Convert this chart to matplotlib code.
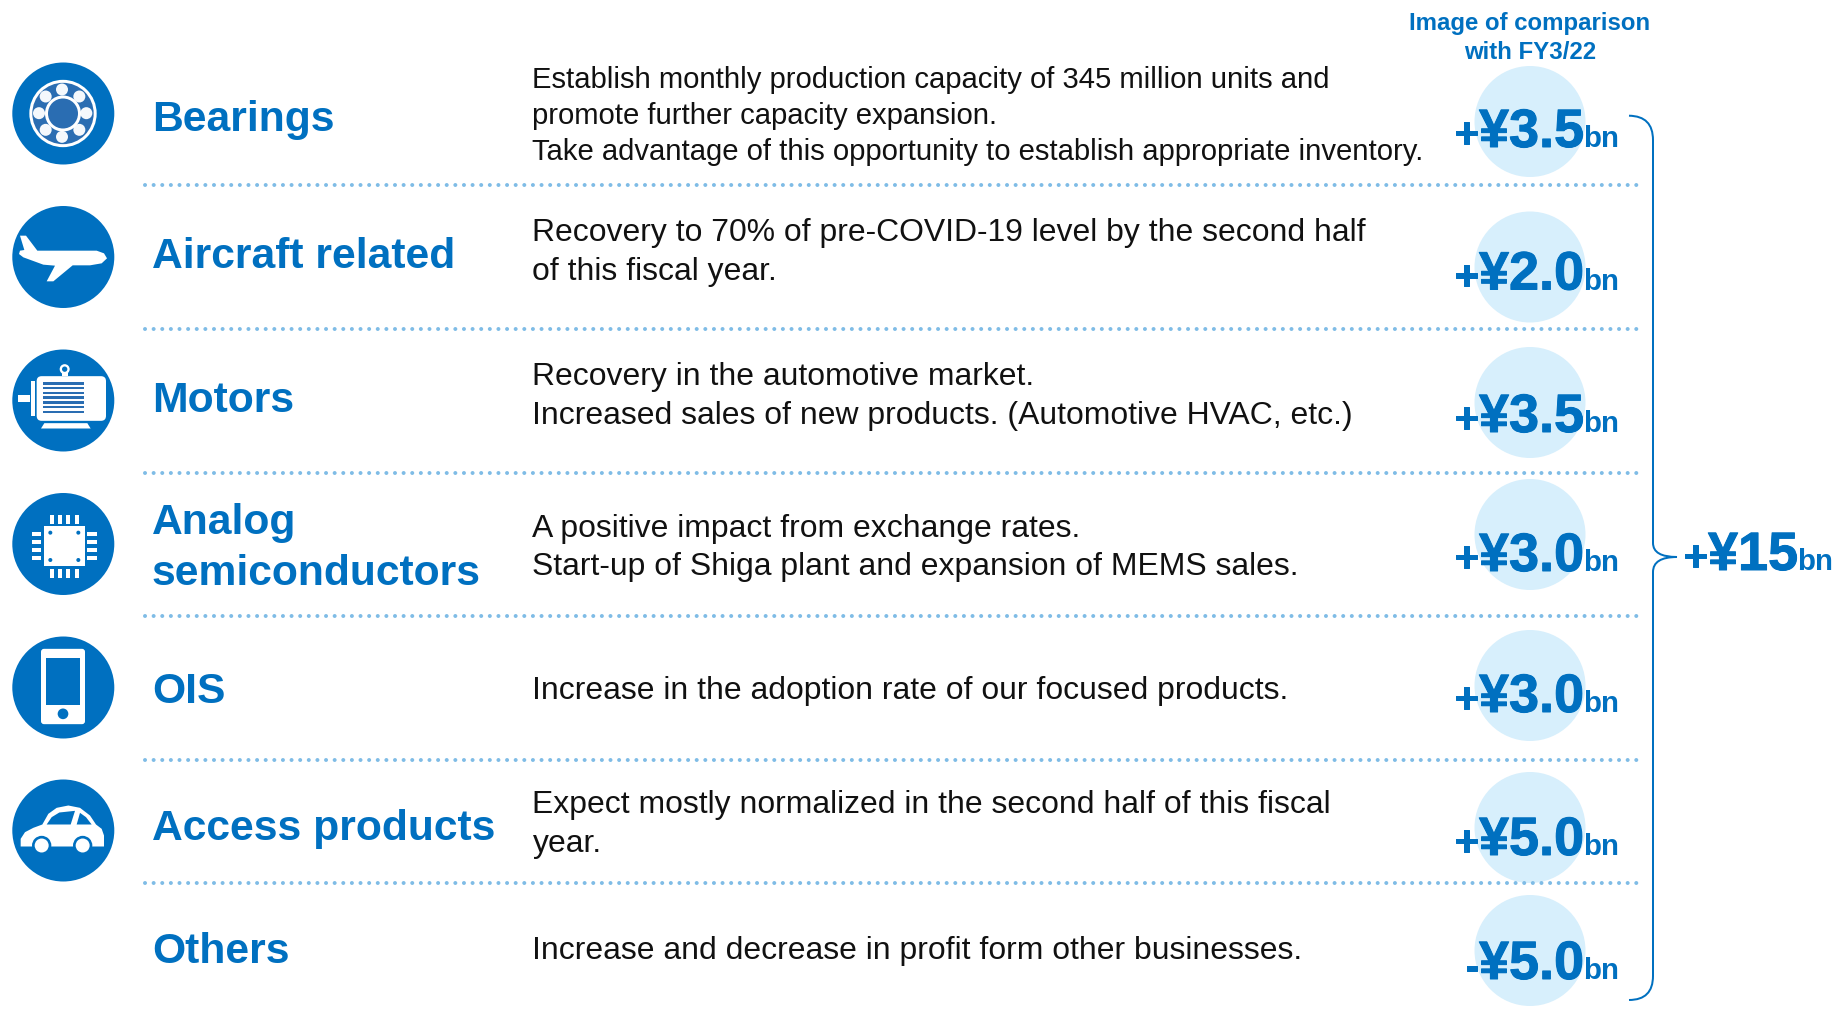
import matplotlib
matplotlib.use("Agg")
import matplotlib.pyplot as plt
import matplotlib.patheffects as pe
from matplotlib.patches import Circle, Polygon, Rectangle, FancyBboxPatch, PathPatch
from matplotlib.path import Path

categories = ["Bearings", "Aircraft related", "Motors", "Analog\nsemiconductors", "OIS", "Access products", "Others"]
descriptions = [
    ["Establish monthly production capacity of 345 million units and",
     "promote further capacity expansion.",
     "Take advantage of this opportunity to establish appropriate inventory."],
    ["Recovery to 70% of pre-COVID-19 level by the second half", "of this fiscal year."],
    ["Recovery in the automotive market.", "Increased sales of new products. (Automotive HVAC, etc.)"],
    ["A positive impact from exchange rates.", "Start-up of Shiga plant and expansion of MEMS sales."],
    ["Increase in the adoption rate of our focused products."],
    ["Expect mostly normalized in the second half of this fiscal", "year."],
    ["Increase and decrease in profit form other businesses."],
]
signs = ["+", "+", "+", "+", "+", "+", "-"]
amounts = ["¥3.5", "¥2.0", "¥3.5", "¥3.0", "¥3.0", "¥5.0", "¥5.0"]
total_sign, total_amount = "+", "¥15"
unit = "bn"
header = "Image of comparison\nwith FY3/22"

BLUE = "#0070C0"
LIGHT = "#D7EFFC"
DOT = "#7FBCE6"
INK = "#111111"
FONT = "Liberation Sans"
PX = 0.72

icon_y = [113.5, 257, 400.5, 544, 687.5, 830.5]
bubble_y = [121.5, 267, 402.5, 534.5, 685.5, 827.5, 950.5]
amount_base = [147, 289.5, 432, 571, 712, 855, 979]
sep_y = [184.7, 328.7, 472.5, 615.5, 759.5, 883]
title_y = [131, 268, 412, None, 703, 840, 963]
body_base = [[88.5, 124.5, 160], [241, 280], [385.5, 424], [536.5, 575], [699], [813, 852], [959]]
body_size = [29.25, 31.9, 31.9, 31.9, 31.9, 31.9, 31.9]

fig = plt.figure(figsize=(18.37, 10.14), dpi=100, facecolor="white")
ax = fig.add_axes([0, 0, 1, 1])
ax.set_xlim(0, 1837)
ax.set_ylim(1014, 0)
ax.axis("off")


def txt(x, y, s, size, weight="normal", color=BLUE, ha="left", va="baseline", heavy=0):
    t = ax.text(x, y, s, fontsize=size * PX, fontweight=weight, color=color, ha=ha, va=va,
                family=FONT, zorder=6)
    if heavy:
        t.set_path_effects([pe.withStroke(linewidth=heavy * PX, foreground=color)])


def icon_maker(cx_z, cy_z, cy):
    def X(x, y):
        return (63 + (x - cx_z) / 3, cy + (y - cy_z) / 3)
    def poly(pts, c="white", z=4):
        ax.add_patch(Polygon([X(*p) for p in pts], closed=True, fc=c, ec="none", zorder=z))
    def rect(x0, y0, x1, y1, c="white", z=4):
        px, py = X(x0, y0)
        ax.add_patch(Rectangle((px, py), (x1 - x0) / 3, (y1 - y0) / 3, fc=c, ec="none", zorder=z))
    def circ(x, y, r, c="white", z=4):
        ax.add_patch(Circle(X(x, y), r / 3, fc=c, ec="none", zorder=z))
    def rrect(x0, y0, x1, y1, rad, c="white", z=4):
        px, py = X(x0, y0)
        ax.add_patch(FancyBboxPatch((px + rad, py + rad), (x1 - x0) / 3 - 2 * rad, (y1 - y0) / 3 - 2 * rad,
                                    boxstyle=f"round,pad={rad}", fc=c, ec="none", zorder=z))
    return poly, rect, circ, rrect


for y in icon_y:
    ax.add_patch(Circle((63.3, y), 51, fc=BLUE, ec="none", zorder=3))

# bearing
poly, rect, circ, rrect = icon_maker(189, 218, icon_y[0])
circ(189, 218, 101)
circ(189, 218, 92, "#2A6DB2", 4.1)
balls = [(186, 146), (238, 167), (259, 217), (238, 267), (186, 288), (137, 267), (117, 217), (137, 167)]
for b in balls:
    circ(*b, 18, "#F4F8FC", 4.2)
circ(189, 218, 54, "white", 4.3)
circ(189, 218, 45, "#2A6DB2", 4.4)

# plane
poly, rect, circ, rrect = icon_maker(189, 649, icon_y[1])
poly([(60, 585), (78, 585), (112, 630), (290, 630), (312, 638), (321, 653), (305, 668), (270, 674),
      (218, 674), (160, 722), (140, 722), (165, 675), (130, 672), (70, 650), (57, 640), (60, 630), (73, 628)])

# motor
poly, rect, circ, rrect = icon_maker(189, 1079, icon_y[2])
rrect(110, 1006, 318, 1140, 5)
rect(93, 1020, 105, 1127)
rect(53, 1062, 90, 1085)
poly([(133, 1147), (262, 1147), (272, 1163), (123, 1163)])
rect(185, 995, 203, 1006)
circ(194, 985, 15)
circ(194, 985, 8, BLUE, 4.2)
for sy in [1024, 1038, 1052, 1066, 1081, 1095, 1110]:
    rect(130, sy, 252, sy + 7, "#2A6DB2", 4.2)

# chip
poly, rect, circ, rrect = icon_maker(189, 218, icon_y[3])
rect(131, 165, 255, 285)
for d in [(151, 184), (235, 184), (151, 266), (235, 266)]:
    circ(*d, 6, BLUE, 4.2)
for px_ in [150, 175, 199, 224]:
    rect(px_, 130, px_ + 12, 158)
    rect(px_, 292, px_ + 12, 320)
for py_ in [182, 207, 231, 255]:
    rect(96, py_, 124, py_ + 12)
    rect(262, py_, 290, py_ + 12)

# phone
poly, rect, circ, rrect = icon_maker(189, 650, icon_y[4])
rrect(123, 534, 255, 760, 3)
rect(137, 561, 241, 702, BLUE, 4.2)
circ(189, 729, 16, BLUE, 4.2)

# car
poly, rect, circ, rrect = icon_maker(189, 1080, icon_y[5])
poly([(62, 1128), (62, 1105), (75, 1085), (100, 1072), (127, 1062), (145, 1030), (170, 1012), (205, 1005),
      (240, 1012), (270, 1035), (288, 1062), (305, 1075), (312, 1095), (312, 1128)])
poly([(140, 1062), (155, 1040), (178, 1026), (225, 1021), (212, 1062)], BLUE, 4.2)
poly([(230, 1062), (240, 1027), (258, 1040), (275, 1062)], BLUE, 4.2)
for wx in (125, 248):
    circ(wx, 1125, 29, BLUE, 4.3)
    circ(wx, 1125, 21, "white", 4.4)

# separators
for y in sep_y:
    ax.plot([145, 1644], [y, y], color=DOT, lw=4 * PX, linestyle=(0, (0.01, 2.145)),
            dash_capstyle="round", zorder=2)

# row labels
for i, cat in enumerate(categories):
    if "\n" in cat:
        a, b = cat.split("\n")
        txt(152, 534, a, 42.6, "bold")
        txt(152, 585, b, 42.6, "bold")
    else:
        txt(152, title_y[i], cat, 42.6, "bold")

# body text
for lines, bases, size in zip(descriptions, body_base, body_size):
    for line, b in zip(lines, bases):
        txt(532.5, b, line, size, color=INK)

# bubbles and amounts
for s, a, by, base in zip(signs, amounts, bubble_y, amount_base):
    ax.add_patch(Circle((1530, by), 55.5, fc=LIGHT, ec="none", zorder=1))
    txt(1479, base, s, 42, "bold", ha="right", heavy=1)
    txt(1479, base, a, 54, "bold", heavy=1)
    txt(1583, base, unit, 29.5, "bold")

txt(1530, 30, header.split("\n")[0], 24, "bold", ha="center")
txt(1530, 59, header.split("\n")[1], 24, "bold", ha="center")

# bracket
verts = [(1629, 115.7), (1653, 116), (1653, 140), (1653, 543), (1653, 557), (1677, 557),
         (1653, 557), (1653, 572), (1653, 976), (1653, 1000), (1629, 1000)]
codes = [Path.MOVETO, Path.CURVE3, Path.CURVE3, Path.LINETO, Path.CURVE3, Path.CURVE3,
         Path.CURVE3, Path.CURVE3, Path.LINETO, Path.CURVE3, Path.CURVE3]
ax.add_patch(PathPatch(Path(verts, codes), fc="none", ec=BLUE, lw=2 * PX, zorder=5))

txt(1708, 570, total_sign, 42, "bold", ha="right", heavy=1)
txt(1708, 570, total_amount, 54, "bold", heavy=1)
txt(1797, 570, unit, 29.5, "bold")

fig.savefig("out.png", dpi=100, facecolor="white")
